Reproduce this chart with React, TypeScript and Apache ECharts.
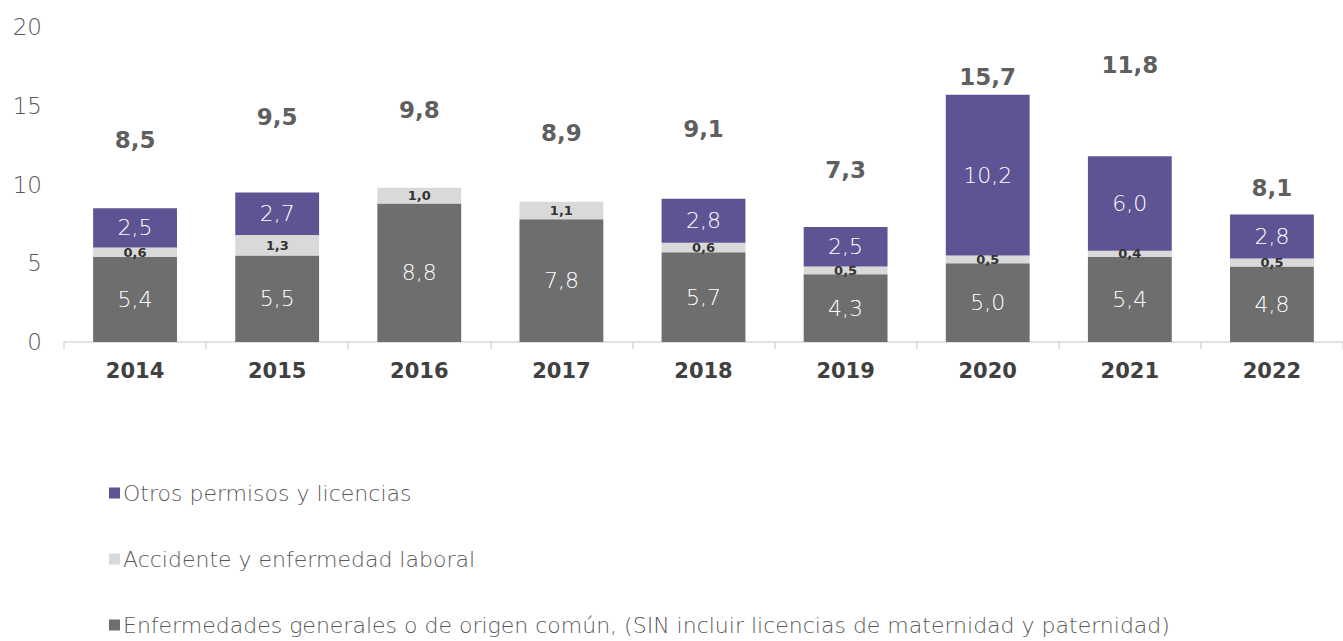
import React, { useEffect, useRef } from "react";
import * as echarts from "echarts";

const categories = ["2014", "2015", "2016", "2017", "2018", "2019", "2020", "2021", "2022"];
const enfermedades = [5.4, 5.5, 8.8, 7.8, 5.7, 4.3, 5.0, 5.4, 4.8];
const accidente = [0.6, 1.3, 1.0, 1.1, 0.6, 0.5, 0.5, 0.4, 0.5];
const otros = [2.5, 2.7, null, null, 2.8, 2.5, 10.2, 6.0, 2.8];
const totals = [8.5, 9.5, 9.8, 8.9, 9.1, 7.3, 15.7, 11.8, 8.1];
// heights (in axis units) where the total labels sit in the original
const totalLabelLevel = [12.8, 14.3, 14.7, 13.3, 13.5, 10.9, 16.8, 17.6, 9.8];

const FONT = "'DejaVu Sans', 'Open Sans', sans-serif";
const fmt = (v: number) => v.toFixed(1).replace(".", ",");

export default function App() {
  const ref = useRef<HTMLDivElement>(null);
  useEffect(() => {
    document.body.style.margin = "0";
    const chart = echarts.init(ref.current!, undefined, { renderer: "svg" });
    const big = {
      show: true,
      position: "inside" as const,
      color: "#ffffff",
      fontSize: 22,
      fontWeight: 200 as any,
      fontFamily: FONT,
      formatter: (p: any) => (p.value == null || p.value === 0 ? "" : fmt(p.value)),
    };
    chart.setOption({
      animation: false,
      textStyle: { fontFamily: FONT },
      grid: { left: 64, top: 27, width: 1288, height: 315, containLabel: false },
      legend: {
        orient: "vertical",
        left: 104,
        top: 477,
        height: 200,
        itemWidth: 11,
        itemHeight: 11,
        itemGap: 44,
        icon: "rect",
        data: [
          "Otros permisos y licencias",
          "Accidente y enfermedad laboral",
          "Enfermedades generales o de origen común, (SIN incluir licencias de maternidad y paternidad)",
        ],
        textStyle: { fontSize: 22, color: "#595959", fontWeight: 200 as any, fontFamily: FONT, padding: [0, 0, 0, -2] },
      },
      xAxis: {
        type: "category",
        data: categories,
        axisLine: { lineStyle: { color: "#d9d9d9", width: 1.5 } },
        axisTick: { show: true, length: 7, lineStyle: { color: "#d9d9d9", width: 1.5 } },
        axisLabel: { fontSize: 21, fontWeight: "bold", color: "#404040", margin: 18, fontFamily: FONT },
      },
      yAxis: {
        type: "value",
        min: 0,
        max: 20,
        interval: 5,
        splitLine: { show: false },
        axisLine: { show: false },
        axisTick: { show: false },
        axisLabel: { fontSize: 23, color: "#595959", fontWeight: 200 as any, margin: 22, fontFamily: FONT },
      },
      series: [
        {
          name: "Enfermedades generales o de origen común, (SIN incluir licencias de maternidad y paternidad)",
          type: "bar",
          stack: "a",
          barWidth: "59%",
          data: enfermedades,
          itemStyle: { color: "#6e6e6e" },
          label: big,
        },
        {
          name: "Accidente y enfermedad laboral",
          type: "bar",
          stack: "a",
          data: accidente,
          itemStyle: { color: "#d9d9d9" },
          label: {
            show: true,
            position: "inside",
            color: "#333333",
            fontSize: 13,
            fontWeight: "bold",
            fontFamily: FONT,
            formatter: (p: any) => fmt(p.value),
          },
        },
        {
          name: "Otros permisos y licencias",
          type: "bar",
          stack: "a",
          data: otros,
          itemStyle: { color: "#5e5393" },
          label: big,
        },
        {
          name: "totales",
          type: "scatter",
          symbolSize: 1,
          silent: true,
          itemStyle: { color: "rgba(0,0,0,0)" },
          data: totalLabelLevel.map((v, i) => [categories[i], v]),
          label: {
            show: true,
            position: "inside",
            color: "#333333",
            fontSize: 23,
            fontWeight: "bold",
            fontFamily: FONT,
            formatter: (p: any) => fmt(totals[p.dataIndex]),
          },
        },
      ],
    });
    return () => chart.dispose();
  }, []);
  return <div ref={ref} style={{ width: 1343, height: 641 }} />;
}
